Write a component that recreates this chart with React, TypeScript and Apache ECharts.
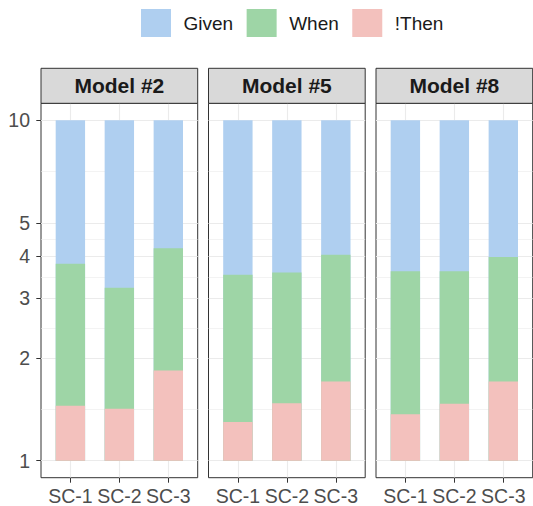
import React, { useEffect, useRef } from "react";
import * as echarts from "echarts";

// ---- data ----
const panels = ["Model #2", "Model #5", "Model #8"];
const categories = ["SC-1", "SC-2", "SC-3"];
const seriesNames = ["Given", "When", "!Then"];
// upper edge of each coloured segment (log10 y scale), per panel, per category
const givenTop = [
  [10, 10, 10],
  [10, 10, 10],
  [10, 10, 10],
];
const whenTop = [
  [3.79, 3.22, 4.21],
  [3.52, 3.57, 4.03],
  [3.6, 3.6, 3.97],
];
const thenTop = [
  [1.45, 1.42, 1.84],
  [1.3, 1.475, 1.71],
  [1.37, 1.47, 1.71],
];
const yTicks = [1, 2, 3, 4, 5, 10];

// ---- style / layout ----
const colors = ["#AFCFF0", "#9ED5A6", "#F3C1BD"];
const FONT = "'Liberation Sans', Arial, Helvetica, sans-serif";
const panelLeft = [41, 208.5, 376];
const panelWidth = 156.7;
const panelTop = 103.3;
const panelHeight = 374.4;
const stripTop = 68.3;

export default function App() {
  const ref = useRef<HTMLDivElement>(null);
  useEffect(() => {
    if (!ref.current) return;
    const chart = echarts.init(ref.current, undefined, { renderer: "svg" });
    const tops = [givenTop, whenTop, thenTop];
    // ggplot-style minor breaks: geometric midpoints between major breaks
    const minor = yTicks.slice(1).map((t, i) => Math.sqrt(t * yTicks[i]));
    const yMin = Math.pow(10, -0.05);
    const yMax = Math.pow(10, 1.05);

    const grid: any[] = [];
    const xAxis: any[] = [];
    const yAxis: any[] = [];
    const series: any[] = [];
    const graphic: any[] = [];

    panels.forEach((name, p) => {
      grid.push({
        left: panelLeft[p],
        top: panelTop,
        width: panelWidth,
        height: panelHeight,
        show: true,
        backgroundColor: "#fff",
        borderColor: "#333",
        borderWidth: 1,
        containLabel: false,
        outerBoundsMode: "none",
      });
      xAxis.push({
        type: "value",
        gridIndex: p,
        min: 0.4,
        max: 3.6,
        axisLine: { show: false },
        axisTick: {
          show: true,
          customValues: categories.map((_, i) => i + 1),
          length: 5,
          lineStyle: { color: "#333", width: 1 },
        },
        axisLabel: {
          show: true,
          customValues: categories.map((_, i) => i + 1),
          formatter: (v: number) => categories[Math.round(v) - 1] ?? "",
          fontSize: 19.5,
          color: "#4D4D4D",
          fontFamily: FONT,
          margin: 8.5,
        },
        splitLine: { show: true, lineStyle: { color: "#EBEBEB", width: 1.1 } },
      });
      yAxis.push({
        type: "log",
        logBase: 10,
        gridIndex: p,
        min: yMin,
        max: yMax,
        axisLine: { show: false },
        axisTick: {
          show: p === 0,
          customValues: yTicks,
          length: 4.7,
          lineStyle: { color: "#333", width: 1 },
        },
        axisLabel: {
          show: p === 0,
          customValues: yTicks,
          fontSize: 19.5,
          color: "#4D4D4D",
          fontFamily: FONT,
          margin: 11,
        },
        splitLine: { show: true, lineStyle: { color: "#EBEBEB", width: 1.1 } },
      });
      yAxis.push({
        type: "log",
        logBase: 10,
        gridIndex: p,
        min: yMin,
        max: yMax,
        position: "left",
        axisLine: { show: false },
        axisTick: { show: false, customValues: minor },
        axisLabel: { show: false, customValues: minor },
        splitLine: { show: true, lineStyle: { color: "#EBEBEB", width: 0.6 } },
      });
      seriesNames.forEach((s, k) => {
        series.push({
          type: "bar",
          name: s,
          xAxisIndex: p,
          yAxisIndex: 2 * p,
          barWidth: "60%",
          barGap: "-100%",
          silent: true,
          itemStyle: { color: colors[k] },
          data: categories.map((_, i) => [i + 1, tops[k][p][i]]),
        });
      });
      graphic.push({
        type: "rect",
        shape: { x: panelLeft[p], y: stripTop, width: panelWidth, height: panelTop - stripTop },
        style: { fill: "#D9D9D9", stroke: "#333", lineWidth: 1 },
        z: 10,
      });
      graphic.push({
        type: "text",
        x: panelLeft[p] + panelWidth / 2,
        y: (stripTop + panelTop) / 2,
        style: {
          text: name,
          font: `bold 21px ${FONT}`,
          fill: "#1A1A1A",
          align: "center",
          verticalAlign: "middle",
          textAlign: "center",
          textVerticalAlign: "middle",
        },
        z: 11,
      });
    });

    chart.setOption({
      animation: false,
      textStyle: { fontFamily: FONT },
      legend: {
        data: seriesNames,
        left: 136,
        top: 4,
        itemWidth: 30,
        itemHeight: 28,
        itemGap: 13.5,
        icon: "rect",
        selectedMode: false,
        textStyle: { fontSize: 19, color: "#1A1A1A", fontFamily: FONT, padding: [0, 0, 0, 7.5] },
      },
      grid,
      xAxis,
      yAxis,
      series,
      graphic,
    });
    return () => chart.dispose();
  }, []);
  return (
    <div
      ref={ref}
      style={{ position: "fixed", left: 0, top: 0, width: 533, height: 506, background: "#fff" }}
    />
  );
}
